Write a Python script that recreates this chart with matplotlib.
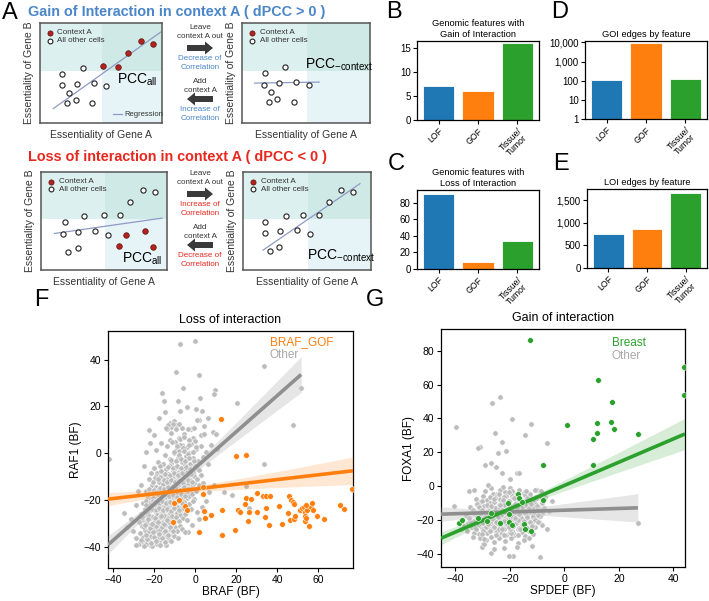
import numpy as np
import matplotlib
matplotlib.use('Agg')
import matplotlib.pyplot as plt
from matplotlib.ticker import FuncFormatter, NullLocator, FixedLocator
from matplotlib.patches import Rectangle, FancyArrow

plt.rcParams['font.family'] = ['Liberation Sans', 'DejaVu Sans']
plt.rcParams['axes.linewidth'] = 0.9

# ---------------- data: bar panels ----------------
bar_categories = ['LOF', 'GOF', 'Tissue/\nTumor']
goi_feature_counts = [7, 6, 16]
loi_feature_counts = [91, 9, 33.5]
goi_edge_counts = [107, 9500, 125]
loi_edge_counts = [757, 853, 1662]
bar_colors = ['#1f77b4', '#ff7f0e', '#2ca02c']

# ---------------- data: schematic panels (axes fraction units) ----------------
goi_all_ctx_x = [0.52, 0.643, 0.722, 0.831, 0.926]
goi_all_ctx_y = [0.57, 0.564, 0.698, 0.819, 0.795]
goi_all_oth_x = [0.183, 0.351, 0.18, 0.305, 0.441, 0.237, 0.545, 0.218, 0.294, 0.428]
goi_all_oth_y = [0.49, 0.554, 0.376, 0.393, 0.403, 0.302, 0.369, 0.198, 0.235, 0.205]
goi_all_line_x = [0.109, 0.989]
goi_all_line_y = [0.144, 0.909]
goi_ctx_oth_x = [0.178, 0.334, 0.172, 0.29, 0.423, 0.525, 0.23, 0.211, 0.277, 0.405]
goi_ctx_oth_y = [0.497, 0.56, 0.379, 0.396, 0.409, 0.376, 0.312, 0.208, 0.238, 0.215]
goi_ctx_line_x = [0.099, 0.603]
goi_ctx_line_y = [0.399, 0.409]

loi_all_ctx_x = [0.619, 0.677, 0.823, 0.889]
loi_all_ctx_y = [0.247, 0.359, 0.40, 0.237]
loi_all_oth_x = [0.188, 0.344, 0.503, 0.624, 0.706, 0.812, 0.902, 0.175, 0.296, 0.429, 0.529, 0.217, 0.291]
loi_all_oth_y = [0.485, 0.546, 0.563, 0.559, 0.695, 0.817, 0.797, 0.366, 0.383, 0.397, 0.359, 0.186, 0.22]
loi_all_line_x = [0.108, 0.96]
loi_all_line_y = [0.373, 0.529]
loi_ctx_oth_x = [0.175, 0.172, 0.209, 0.279, 0.29, 0.334, 0.423, 0.47, 0.522, 0.593, 0.668, 0.765, 0.862]
loi_ctx_oth_y = [0.488, 0.373, 0.197, 0.231, 0.393, 0.556, 0.407, 0.566, 0.366, 0.563, 0.695, 0.817, 0.80]
loi_ctx_line_x = [0.157, 0.914]
loi_ctx_line_y = [0.203, 0.881]

# ---------------- data: panel F (BRAF vs RAF1) ----------------
f_gof_x = [12.5, 19.7, 24.6, 76.7, 3.9, 3.9, -10.4, -7.8, -4.9, -3.9, -10.6, 4.4, 4.9, 7.6, 2.0,
           13.0, 13.2, 19.3, 20.8, 21.8, 24.2, 25.0, 27.2, 25.9, 26.3, 30.4, 30.1, 33.3, 34.5, 36.3,
           34.0, 34.8, 35.8, 40.7, 42.5, 45.4, 45.7, 46.7, 46.2, 47.5, 48.0, 48.2, 48.7, 51.2, 51.9,
           53.0, 53.4, 53.5, 53.7, 54.2, 54.8, 55.3, 56.4, 57.2, 57.4, 59.3, 62.9, 70.9, 72.8, 54.3]
f_gof_y = [14.5, -1.0, -0.6, -15.2, -14.6, -17.4, -21.3, -20.0, -22.7, -24.4, -29.4, -24.5, -27.7, -26.2, -33.6,
           -24.3, -35.0, -32.9, -24.1, -25.1, -21.6, -18.9, -19.4, -28.9, -25.0, -16.9, -25.0, -18.3, -18.4, -18.4,
           -27.1, -23.5, -30.8, -22.6, -30.4, -25.4, -18.4, -20.0, -28.4, -21.0, -27.9, -21.6, -27.0, -24.1, -23.4,
           -22.8, -25.1, -26.7, -29.1, -27.5, -24.4, -30.9, -23.0, -21.3, -24.3, -27.0, -28.1, -22.0, -23.7, -22.0]

f_other_x = [
    -7.2, 0.0, -9.1, 1.8, 33.7, -16.3, -6.0, -15.4, -8.6, 2.6, 9.9, 9.4, 20.5, 51.7,
    -4.2, 0.3, -7.3, 3.4, -14.5, -17.7, 1.8, 6.5, 47.5, -22.3, -12.5, -11.8, -10.5, -9.2, -13.9, -6.4,
    -2.2, -0.8, 4.2, -5.5, 8.8, -13.3, -14.1, -10.6, -9.3, -11.7, -8.1, -3.6, -0.5, 1.1, 3.0, 4.5,
    10.1, -0.9, 0.0, -12.2, -9.6, -8.0, -6.5, -2.8, 7.8,
    -16.8, -13.5, -11.2, -9.1, -7.4, -5.6, -3.9, -1.8, 0.6, 2.9, 5.1, -14.7, -12.1, -10.3, -8.2, -6.5,
    -4.4, -2.7, -0.9, 1.4, 3.6, -17.9, -15.6, -11.7, -7.9, -3.1, -19.3,
    -20.2, -18.4, -17.1, -15.8, -14.3, -13.1, -12.4, -11.0, -9.8, -9.3, -8.1, -7.0, -6.2, -5.1, -4.3,
    -3.2, -2.1, -1.0, 0.3, 1.7, 2.8, -16.5, -19.1, -10.5, -7.6, -13.8, -5.7, -0.4, -21.6, -12.0,
    -22.3, -21.0, -19.8, -18.9, -17.6, -16.9, -16.0, -15.1, -14.2, -13.6, -12.8, -12.1, -11.4, -10.7,
    -10.0, -9.4, -8.7, -8.0, -7.3, -6.6, -5.8, -5.0, -4.1, -3.3, -2.4, -1.5, -0.6, 0.8, 1.9, -20.4,
    -18.1, -15.6, -13.2, -9.1, -6.2, -3.7,
    -24.1, -23.2, -22.4, -21.7, -21.0, -20.3, -19.7, -19.0, -18.4, -17.8, -17.2, -16.6, -16.0, -15.4,
    -14.8, -14.2, -13.6, -13.0, -12.4, -11.8, -11.2, -10.6, -10.0, -9.4, -8.8, -8.2, -7.6, -7.0, -6.4,
    -5.8, -5.2, -4.6, -4.0, -3.4, -2.8, -2.2, -1.4, -0.6, 0.3, -22.8, -20.6, -18.0, -15.1, -12.0, -9.0, -6.7,
    -25.3, -24.6, -23.8, -23.1, -22.5, -21.8, -21.2, -20.5, -19.9, -19.3, -18.6, -18.0, -17.4, -16.8,
    -16.2, -15.6, -15.0, -14.4, -13.8, -13.2, -12.6, -12.0, -11.4, -10.8, -10.2, -9.6, -9.0, -8.4, -7.8,
    -7.2, -6.6, -6.0, -5.3, -4.6, -3.8, -2.9, -2.0, -22.0, -19.6, -17.1, -14.7, -11.7, -8.7, -24.0, -1.2,
    -26.3, -25.6, -24.9, -24.2, -23.5, -22.8, -22.1, -21.4, -20.7, -20.0, -19.3, -18.6, -17.9, -17.2,
    -16.5, -15.8, -15.1, -14.4, -13.7, -13.0, -12.3, -11.6, -10.9, -10.2, -9.5, -8.8, -8.1, -7.2, -6.1,
    -5.0, -18.1, -21.8, -14.0, -11.3, -4.0,
    -25.5, -24.1, -23.0, -21.9, -20.8, -19.7, -18.6, -17.5, -16.4, -15.3, -14.2, -13.1, -12.0, -10.9,
    -9.8, -8.7, -7.6, -6.3, -17.0, -22.5, -11.5, -3.4, -5.0,
    -27.6, -25.4, -22.4, -22.3, -22.2, -19.8, -17.5, -15.2, -12.6, -10.4, -8.2, -14.0,
    -41.8, -34.9, -26.3, -26.0, -29.0, -28.0, 0.7, 18.0, 14.3, 33.7, 26.5, 4.0, 5.5, 3.5, 7.0, 9.0,
    2.0, -1.5, -22.0, -25.0, -24.0, -20.0, 10.5, 6.5, 25.0]
f_other_y = [
    46.7, 47.8, 34.9, 33.6, 37.4, 25.7, 27.9, 22.3, 22.4, 23.5, 26.8, 25.1, 21.3, 27.9,
    19.7, 19.1, 18.0, 17.9, 17.6, 15.2, 14.3, 15.2, 12.2, 9.9, 12.8, 11.2, 13.6, 12.1, 10.5, 10.8,
    10.4, 10.6, 11.5, 8.3, 8.9, 11.9, 10.9, 12.3, 10.2, 8.8, 12.3, 10.2, 10.6, 14.3, 8.0, 8.1,
    8.4, 6.4, 5.1, 5.7, 5.0, 6.7, 3.7, 5.7, 3.7,
    4.2, 2.9, 4.8, 1.6, 3.5, 0.8, 2.6, 4.1, 1.9, 3.2, 0.4, -0.8, -2.6, 0.2, -1.9, -3.8,
    -1.2, -4.4, -2.1, -3.3, -1.5, -3.9, -4.6, -4.1, 0.9, 0.1, 1.2,
    -6.1, -8.3, -5.5, -9.4, -6.8, -8.9, -5.3, -7.6, -9.8, -5.9, -7.9, -6.4, -9.1, -5.2, -7.7,
    -9.5, -6.3, -8.4, -5.8, -7.2, -9.3, -7.4, -9.7, -6.7, -8.8, -9.9, -6.9, -9.9, -8.6, -9.2,
    -11.2, -13.6, -10.7, -14.4, -12.1, -10.3, -14.8, -11.9, -13.3, -10.8, -14.1, -12.0, -10.2, -13.8,
    -11.5, -14.6, -12.4, -10.6, -13.9, -11.3, -14.3, -12.2, -10.4, -13.1, -11.6, -14.0, -12.6, -10.9, -13.4, -12.4,
    -11.0, -13.0, -12.6, -11.9, -12.8, -14.9,
    -16.3, -18.7, -15.4, -19.5, -17.1, -15.9, -18.4, -16.6, -19.8, -15.2, -17.7, -19.1, -16.1, -18.3,
    -15.6, -19.6, -17.0, -15.3, -18.8, -16.4, -19.4, -17.5, -15.8, -18.9, -16.9, -15.1, -19.7, -17.8, -16.2,
    -18.6, -15.5, -17.3, -19.2, -16.6, -18.1, -15.3, -17.4, -19.5, -16.0, -17.4, -19.0, -17.0, -16.9, -17.2, -17.6, -18.9,
    -21.4, -23.8, -20.6, -22.9, -24.6, -21.2, -23.5, -20.3, -24.1, -22.0, -20.8, -23.3, -24.8, -21.5,
    -23.9, -20.2, -22.6, -24.4, -21.0, -23.1, -20.5, -24.7, -22.2, -20.9, -23.6, -21.6, -24.2, -20.4, -22.8,
    -24.5, -21.3, -23.4, -20.7, -22.5, -24.0, -21.8, -23.7, -22.2, -21.7, -22.5, -23.0, -21.4, -23.0, -22.0, -20.6,
    -26.1, -28.4, -25.5, -29.3, -27.0, -25.8, -28.8, -26.6, -29.7, -27.4, -25.3, -28.1, -26.2, -29.5,
    -27.1, -25.6, -28.6, -26.8, -29.9, -27.5, -25.4, -28.3, -26.3, -29.1, -27.0, -25.7, -28.9, -26.5, -27.8,
    -25.9, -27.6, -27.7, -27.9, -27.2, -28.5,
    -31.2, -33.6, -30.8, -32.4, -34.6, -31.0, -33.1, -30.4, -34.2, -31.8, -33.4, -30.6, -32.7, -34.8,
    -31.3, -33.0, -30.9, -32.2, -32.0, -34.0, -30.2, -33.5, -33.8,
    -38.7, -38.0, -36.6, -38.0, -39.0, -36.0, -37.8, -35.6, -37.1, -35.3, -36.4, -39.2,
    -2.4, -25.5, -13.5, -30.9, -22.0, -16.0, -25.2, -18.0, -16.7, -4.8, -23.3, -12.8, -20.5, -23.0, -16.5, -13.5,
    -28.0, -30.5, 4.5, -5.5, 0.5, 8.0, 2.0, -4.5, -14.0]

# points read from the dense diagonal core of the "Other" cloud
f_core_x = [
    -7.5, -3.0, -5.2, -9.0, -6.1, -2.8, 0.5, -10.5, -8.0, -5.5, -3.5, -1.0,
    -11.6, -9.4, -7.1, -5.0, -2.9, -0.6, -13.0, -10.8, -8.7, -6.9, -4.6, -2.5, -0.2,
    -14.5, -12.2, -10.1, -8.3, -6.2, -4.0, -1.9, -15.4, -13.5, -11.6, -9.8, -7.8, -5.9, -3.7, -1.6,
    -16.9, -15.0, -13.1, -11.3, -9.4, -7.5, -5.4, -3.3, -18.2, -16.4, -14.6, -12.7, -10.9, -9.0, -7.1, -5.0,
    -19.6, -17.8, -16.0, -14.2, -12.4, -10.5, -8.6, -6.6, -21.0, -19.2, -17.4, -15.6, -13.8, -12.0, -10.1, -8.1,
    -22.3, -20.5, -18.7, -16.9, -15.1, -13.3, -11.4, -9.5, -23.6, -21.7, -19.9, -18.1, -16.3, -14.5, -12.6,
    -24.4, -22.5, -20.6, -18.8, -16.9, -15.0, -25.2, -23.3, -21.4, -19.5, -17.6, -24.0, -21.0, -18.6]
f_core_y = [
    6.2, 5.6, 7.1, 3.1, 2.4, 3.6, 2.8, 0.4, -0.6, 0.9, -0.3, 0.6,
    -2.8, -3.3, -2.5, -3.1, -2.2, -3.5, -5.7, -6.4, -5.5, -6.2, -5.9, -6.6, -5.4,
    -8.7, -9.3, -8.4, -9.1, -8.6, -9.4, -8.8, -11.6, -12.4, -11.3, -12.2, -11.8, -12.5, -11.4, -12.1,
    -14.7, -15.3, -14.4, -15.2, -14.8, -15.5, -14.6, -15.1, -17.6, -18.3, -17.4, -18.2, -17.8, -18.5, -17.5, -18.1,
    -20.7, -21.4, -20.5, -21.2, -20.8, -21.5, -20.6, -21.1, -23.6, -24.3, -23.4, -24.2, -23.8, -24.5, -23.5, -24.1,
    -26.7, -27.3, -26.4, -27.2, -26.8, -27.5, -26.6, -27.1, -29.6, -30.3, -29.4, -30.2, -29.8, -30.5, -29.5,
    -32.8, -33.4, -32.5, -33.2, -32.7, -33.5, -35.7, -36.4, -35.5, -36.2, -35.8, -38.9, -39.4, -38.6]

# points read from the lower tail of the "Other" cloud
f_tail_x = [
    -28.6, -26.5, -24.8, -23.5, -21.4, -20.2, -18.9, -17.2, -16.0, -14.6, -13.1, -11.8,
    -26.8, -25.1, -23.9, -22.0, -20.4, -19.0, -17.8, -16.1, -14.8, -13.4, -12.2, -10.6,
    -27.5, -25.9, -24.4, -22.9, -21.2, -19.8, -18.3, -16.6, -15.2, -13.8,
    -30.5, -31.5, -29.0, -33.0]
f_tail_y = [
    -39.0, -37.2, -39.6, -36.8, -38.3, -35.6, -37.4, -39.3, -36.3, -38.1, -35.9, -37.6,
    -33.9, -31.5, -34.9, -31.9, -33.7, -30.9, -34.5, -31.7, -33.2, -34.9, -31.3, -33.0,
    -29.4, -27.2, -30.6, -28.0, -30.1, -27.7, -29.2, -26.9, -30.4, -28.3,
    -33.0, -28.0, -36.0, -31.5]

# ---------------- data: panel G (SPDEF vs FOXA1) ----------------
g_breast_x = [-12.5, 44.0, 44.0, 12.5, 17.5, 1.0, 12.1, 17.1, 18.4, 12.1, 10.4, 26.9, -7.9, 10.4,
              -8.0, -16.9, -20.8, -16.8, -15.5, -23.6, -20.3, -19.1, -15.0, -14.6, -12.4, -28.3,
              -38.8, -37.6, -26.8, -20.4, -31.7]
g_breast_y = [86.5, 70.5, 53.6, 62.6, 49.5, 36.1, 37.1, 37.7, 34.0, 31.4, 27.9, 30.8, 12.7, 12.3,
              -8.0, -4.4, -10.0, -6.8, -9.2, -21.8, -21.4, -23.1, -22.4, -25.5, -26.7, -20.6,
              -21.9, -19.9, -15.7, -16.7, -19.0]

g_other_x = [
    -29.3, -27.0, -25.2, -23.6, -21.8, -20.1, -18.4, -16.5, -14.7, -26.1, -22.7, -19.2, -28.0, -35.0,
    -32.6, -31.1, -29.7, -28.4, -27.2, -26.0, -24.9, -23.7, -22.5, -21.4, -20.2, -19.1, -17.9, -16.8,
    -15.6, -14.4, -13.1, -11.8, -10.4, -25.5, -18.7, -30.2, -12.5,
    -34.8, -33.4, -32.1, -30.9, -29.6, -28.4, -27.3, -26.2, -25.1, -24.0, -22.9, -21.8, -20.7, -19.6,
    -18.5, -17.4, -16.3, -15.2, -14.1, -13.0, -11.9, -10.6, -9.3, -8.2, -31.5, -27.8, -23.5, -19.0, -15.8, -12.4,
    -36.0, -34.6, -33.3, -32.0, -30.8, -29.6, -28.5, -27.4, -26.3, -25.2, -24.1, -23.0, -21.9, -20.8,
    -19.7, -18.6, -17.5, -16.4, -15.3, -14.2, -13.1, -12.0, -10.8, -9.5, -8.1, -31.4, -26.9, -22.5,
    -18.0, -13.6, -24.6, -20.3,
    -35.4, -34.1, -32.7, -31.4, -30.1, -28.9, -27.7, -26.5, -25.4, -24.3, -23.2, -22.1, -21.0, -19.9,
    -18.8, -17.7, -16.6, -15.5, -14.4, -13.3, -12.1, -10.8, -9.4, -8.2, -29.5, -25.9, -20.5, -16.1, -11.5,
    -32.8, -31.2, -29.7, -28.3, -26.9, -25.5, -24.1, -22.7, -21.3, -19.9, -18.5, -17.1, -15.7, -14.3,
    -12.9, -11.5, -23.4, -19.0,
    -29.8, -28.6, -26.0, -24.0, -21.8, -19.5, -17.0, -15.0, -13.0, -30.3,
    -39.8, -26.4, -23.7, -19.2, -12.2, -25.3, -14.3, -22.8, -6.2, -30.9, -31.6, -21.5, -29.0, -27.0,
    -24.5, -23.0, -20.0, -17.5, -16.8, -4.4, -40.5, -9.0, -19.0, -20.5, -27.0, -29.5, 27.0, -25.0,
    -26.0, -33.0, -10.0, -7.0, -5.5, -6.5, -38.0, -37.5, -22.0, -17.5, -12.0]
g_other_y = [
    -3.1, -1.2, -4.4, -2.0, -3.6, -0.8, -4.7, -2.5, -4.0, -4.9, -0.3, -2.9, 1.0, -3.0,
    -7.3, -9.6, -5.8, -8.1, -6.4, -9.3, -5.4, -7.7, -9.8, -6.0, -8.5, -5.7, -9.1, -6.8,
    -8.7, -5.3, -7.4, -9.4, -6.3, -7.0, -7.2, -8.9, -5.8,
    -12.0, -14.3, -10.6, -13.1, -11.4, -14.6, -10.2, -12.7, -14.9, -11.1, -13.4, -10.5, -12.9, -14.5,
    -11.6, -13.8, -10.8, -12.3, -14.7, -11.0, -13.2, -10.4, -12.6, -14.2, -12.5, -12.2, -12.6, -12.0, -14.0, -12.0,
    -17.0, -19.2, -15.6, -18.1, -16.3, -19.6, -15.2, -17.5, -19.9, -16.0, -18.4, -15.5, -19.1, -16.7,
    -18.8, -15.3, -17.9, -19.7, -16.2, -18.5, -15.8, -19.3, -17.0, -18.2, -16.0, -19.8, -18.0, -17.3,
    -16.9, -17.2, -15.9, -19.9,
    -21.5, -23.8, -20.7, -22.9, -24.6, -21.2, -23.5, -20.4, -24.2, -22.0, -20.8, -23.7, -21.6, -24.5,
    -20.6, -22.8, -24.9, -21.3, -23.4, -20.3, -22.5, -24.3, -21.0, -23.0, -22.6, -22.4, -22.3, -23.0, -20.7,
    -26.3, -28.5, -25.4, -27.6, -29.7, -26.0, -28.2, -25.7, -29.1, -26.8, -28.9, -25.5, -27.3, -29.5,
    -26.2, -28.0, -27.1, -27.5,
    -34.0, -31.5, -33.0, -30.8, -32.2, -30.6, -33.4, -31.5, -30.3, -35.7,
    35.1, 49.3, 52.8, 39.6, 36.9, 31.7, 30.2, 25.9, 25.5, 23.1, 22.5, 21.0, 12.5, 13.5,
    19.5, 8.0, 4.5, 8.0, 7.5, -8.9, -11.5, -42.0, -41.5, -41.0, -39.5, -34.0, -21.7, 11.5,
    -37.0, -2.0, -2.0, -6.5, -14.5, -25.0, -25.5, -21.0, -36.5, -36.0, -35.5]

# points read from the dense centre of the "Other" cloud
g_core_x = [
    -28.5, -25.8, -23.1, -20.4, -17.7, -15.0, -30.2, -27.6, -24.9, -22.2, -19.5, -16.8, -14.1, -11.4,
    -31.0, -28.3, -25.6, -22.9, -20.2, -17.5, -14.8, -12.1, -9.6, -30.5, -27.8, -25.1, -22.4, -19.7,
    -17.0, -14.3, -11.6, -29.8, -27.1, -24.4, -21.7, -19.0, -16.3, -13.6, -10.9, -28.9, -26.2, -23.5,
    -20.8, -18.1, -15.4, -12.7, -27.4, -24.7, -22.0, -19.3, -16.6, -13.9, -25.0, -22.3, -19.6, -16.9,
    -26.0, -22.0, -18.5, -24.0, -20.5, -33.5, -33.0, -8.8, -9.5, -10.5,
    -26.7, -21.3, -18.9, -23.8, -26.9, -21.0, -17.8, -23.3, -15.9, -24.1, -20.0, -28.1, -13.0, -16.2,
    -19.9, -25.3, -14.7, -22.6, -30.0, -12.0,
    -29.1, -27.3, -26.1, -25.4, -24.2, -23.4, -22.6, -21.9, -21.2, -20.6, -19.8, -19.1, -18.4, -17.6,
    -16.9, -16.0, -15.2, -14.5, -28.2, -27.0, -25.9, -24.8, -23.7, -22.9, -22.1, -21.4, -20.5, -19.6,
    -18.8, -18.0, -17.2, -16.3, -15.5, -14.8, -13.8, -26.7, -24.0, -21.5, -19.3, -23.2]
g_core_y = [
    -11.2, -9.4, -10.4, -9.0, -10.3, -8.9, -14.0, -14.5, -12.9, -14.3, -12.6, -13.0, -11.6, -12.8,
    -16.7, -17.1, -15.4, -16.5, -14.9, -16.2, -14.6, -15.0, -13.6, -19.1, -19.6, -17.9, -19.0, -17.4,
    -17.8, -16.3, -17.6, -21.6, -22.1, -20.4, -21.5, -19.9, -20.3, -18.8, -20.0, -24.0, -24.6, -22.9,
    -23.8, -22.3, -22.8, -21.1, -26.4, -26.6, -25.0, -26.3, -24.6, -24.9, -28.8, -29.1, -27.5, -28.8,
    -7.5, -6.4, -7.2, -4.8, -3.6, -20.3, -23.6, -17.8, -21.2, -6.9,
    -12.2, -11.7, -14.1, -15.8, -20.7, -19.1, -21.0, -21.1, -18.2, -25.1, -22.5, -15.8, -12.9, -10.9,
    -25.5, -19.8, -21.1, -8.2, -26.3, -23.5,
    -18.3, -15.7, -19.6, -12.9, -16.8, -20.9, -14.6, -18.0, -22.4, -15.4, -19.3, -11.9, -17.1, -21.7,
    -14.2, -18.6, -23.3, -16.0, -22.3, -11.4, -24.0, -21.8, -13.1, -25.2, -11.0, -16.3, -24.2, -13.7,
    -23.6, -10.8, -19.9, -25.4, -12.7, -20.4, -18.1, -17.4, -19.0, -20.0, -17.8, -17.1]

# points read from the flanks of the "Other" cloud
g_flank_x = [
    -11.5, -10.2, -9.0, -8.1, -7.3, -12.8, -11.0, -9.6, -8.5, -13.6, -12.4, -10.8, -7.6, -14.2, -9.9,
    -35.8, -34.2, -33.0, -32.3, -31.0, -34.8, -36.7, -30.2, -33.6, -32.0, -29.4, -35.0,
    -23.0, -21.0, -19.0, -24.5, -18.0, -22.2, -26.3, -20.3, -16.8, -25.0, -23.7, -17.4]
g_flank_y = [
    -8.2, -11.6, -5.7, -9.9, -13.1, -4.6, -15.4, -17.2, -3.1, -7.0, -10.6, -2.4, -7.4, -3.0, -13.8,
    -26.2, -23.1, -27.9, -25.0, -30.6, -20.7, -23.6, -28.1, -29.8, -21.9, -31.2, -18.6,
    -14.0, -16.0, -14.8, -17.9, -19.0, -20.3, -15.0, -12.7, -16.3, -21.3, -11.2, -13.0]

# ---------------- figure ----------------
W, H = 709, 601
fig = plt.figure(figsize=(W / 100, H / 100), dpi=100)


def px_axes(x0, y0, x1, y1):
    return fig.add_axes([x0 / W, 1 - y1 / H, (x1 - x0) / W, (y1 - y0) / H])


overlay = fig.add_axes([0, 0, 1, 1])
overlay.set_xlim(0, W)
overlay.set_ylim(H, 0)
overlay.axis('off')
overlay.set_zorder(10)
overlay.patch.set_alpha(0)

# panel letters
for letter, (lx, ly) in {'A': (2, 13), 'B': (386, 12), 'C': (388, 164), 'D': (551, 12),
                         'E': (553, 164), 'F': (34, 300), 'G': (366, 300)}.items():
    overlay.text(lx, ly, letter, fontsize=17, ha='left', va='center')

overlay.text(28, 12, 'Gain of Interaction in context A ( dPCC > 0 )', color='#4a86c8',
             fontsize=10.4, fontweight='bold', ha='left', va='center')
overlay.text(28, 157, 'Loss of interaction in context A ( dPCC < 0 )', color='#e8281e',
             fontsize=10.4, fontweight='bold', ha='left', va='center')

# ---------------- schematic ----------------
Q_UL, Q_UR, Q_LR = '#dcf0ef', '#cfe9e6', '#e6f4f7'


def schematic(ax, ctx_x, ctx_y, oth_x, oth_y, lx, ly, pcc_label, pcc_pos, show_reg):
    ax.set_xlim(0, 1)
    ax.set_ylim(0, 1)
    ax.set_xticks([])
    ax.set_yticks([])
    for s in ax.spines.values():
        s.set_color('#555555')
        s.set_linewidth(1.1)
    ax.add_patch(Rectangle((0, 0.52), 0.51, 0.48, color=Q_UL, lw=0, zorder=0))
    ax.add_patch(Rectangle((0.51, 0.52), 0.49, 0.48, color=Q_UR, lw=0, zorder=0))
    ax.add_patch(Rectangle((0.51, 0), 0.49, 0.52, color=Q_LR, lw=0, zorder=0))
    ax.plot(lx, ly, color='#8e9ac4', lw=0.9, zorder=2)
    ax.scatter(oth_x, oth_y, s=14, facecolor='white', edgecolor='#222222', lw=0.8, zorder=3)
    if len(ctx_x):
        ax.scatter(ctx_x, ctx_y, s=16, facecolor='#b3221c', edgecolor='#5a1010', lw=0.5, zorder=3)
    ax.scatter([0.08], [0.9], s=14, facecolor='#b3221c', edgecolor='#5a1010', lw=0.5, zorder=3)
    ax.scatter([0.08], [0.825], s=12, facecolor='white', edgecolor='#222222', lw=0.8, zorder=3)
    ax.text(0.14, 0.9, 'Context A', fontsize=5.8, va='center', color='#333333')
    ax.text(0.14, 0.825, 'All other cells', fontsize=5.8, va='center', color='#333333')
    ax.text(pcc_pos[0], pcc_pos[1], pcc_label, fontsize=10, ha='center', va='center')
    if show_reg:
        ax.plot([0.6, 0.67], [0.09, 0.09], color='#8e9ac4', lw=0.9)
        ax.text(0.69, 0.09, 'Regression', fontsize=5.5, va='center', color='#333333')
    ax.set_xlabel('Essentiality of Gene A', fontsize=7.5, labelpad=5, color='#333333')
    ax.set_ylabel('Essentiality of Gene B', fontsize=7.5, labelpad=4, color='#333333')


ax = px_axes(40, 23, 162, 123)
schematic(ax, goi_all_ctx_x, goi_all_ctx_y, goi_all_oth_x, goi_all_oth_y,
          goi_all_line_x, goi_all_line_y, 'PCC$_{\\mathregular{all}}$', (0.8, 0.43), True)
ax = px_axes(242, 23, 370, 123)
schematic(ax, [], [], goi_ctx_oth_x, goi_ctx_oth_y,
          goi_ctx_line_x, goi_ctx_line_y, 'PCC$_{\\mathregular{-context}}$', (0.76, 0.58), False)
ax = px_axes(41, 172, 167, 270)
schematic(ax, loi_all_ctx_x, loi_all_ctx_y, loi_all_oth_x, loi_all_oth_y,
          loi_all_line_x, loi_all_line_y, 'PCC$_{\\mathregular{all}}$', (0.8, 0.11), False)
ax = px_axes(243, 172, 371, 270)
schematic(ax, [], [], loi_ctx_oth_x, loi_ctx_oth_y,
          loi_ctx_line_x, loi_ctx_line_y, 'PCC$_{\\mathregular{-context}}$', (0.77, 0.14), False)


def mid_group(y0, col_a, col_b, txt_a, txt_b):
    overlay.text(200, y0, 'Leave\ncontext A out', fontsize=5.8, ha='center', va='center',
                 color='#333333', linespacing=1.3)
    overlay.add_patch(FancyArrow(187, y0 + 16, 18, 0, width=6, head_width=13, head_length=8,
                                 length_includes_head=False, color='#3a3a3a', lw=0))
    overlay.text(200, y0 + 31, txt_a, fontsize=5.8, ha='center', va='center', color=col_a,
                 linespacing=1.3)
    overlay.text(200, y0 + 54, 'Add\ncontext A', fontsize=5.8, ha='center', va='center',
                 color='#333333', linespacing=1.3)
    overlay.add_patch(FancyArrow(213, y0 + 67, -18, 0, width=6, head_width=13, head_length=8,
                                 length_includes_head=False, color='#3a3a3a', lw=0))
    overlay.text(200, y0 + 82, txt_b, fontsize=5.8, ha='center', va='center', color=col_b,
                 linespacing=1.3)


mid_group(32, '#4a86c8', '#4a86c8', 'Decrease of\nCorrelation', 'Increase of\nCorrelation')
mid_group(178, '#e8281e', '#e8281e', 'Increase of\nCorrelation', 'Decrease of\nCorrelation')

# ---------------- bar panels ----------------
comma = FuncFormatter(lambda v, p: f'{int(round(v)):,}')


def bar_panel(ax, values, title, ylim, ticks, log=False):
    xs = np.arange(len(bar_categories))
    if log:
        ax.set_yscale('log')
    ax.bar(xs, values, width=0.8, color=bar_colors, edgecolor='white', linewidth=0.6,
           bottom=1 if log else 0)
    ax.set_xlim(-0.55, 2.55)
    ax.set_ylim(*ylim)
    ax.yaxis.set_major_locator(FixedLocator(ticks))
    ax.yaxis.set_minor_locator(NullLocator())
    ax.yaxis.set_major_formatter(comma)
    ax.set_xticks(xs)
    ax.set_xticklabels(bar_categories, rotation=45, ha='right', rotation_mode='anchor',
                       fontsize=6.3, linespacing=1.0, multialignment='center')
    ax.tick_params(axis='y', labelsize=7, length=3, width=0.8, pad=1.5)
    ax.tick_params(axis='x', length=3, width=0.8, pad=1.5)
    ax.set_title(title, fontsize=6.7, pad=3, linespacing=1.3)


bar_panel(px_axes(417, 41, 539, 120), goi_feature_counts,
          'Genomic features with\nGain of Interaction', (0, 16.5), [0, 5, 10, 15])
bar_panel(px_axes(417, 190, 539, 269), loi_feature_counts,
          'Genomic features with\nLoss of Interaction', (0, 95.6), [0, 20, 40, 60, 80])
bar_panel(px_axes(585, 41, 707, 119), goi_edge_counts,
          'GOI edges by feature', (1, 11750), [1, 10, 100, 1000, 10000], log=True)
bar_panel(px_axes(587, 189, 707, 268), loi_edge_counts,
          'LOI edges by feature', (0, 1743), [0, 500, 1000, 1500])


# ---------------- scatter panels ----------------
def reg_fit(x, y, xs):
    x = np.asarray(x, float)
    y = np.asarray(y, float)
    b, a = np.polyfit(x, y, 1)
    n = len(x)
    res = y - (a + b * x)
    s = np.sqrt(np.sum(res ** 2) / (n - 2))
    se = s * np.sqrt(1.0 / n + (xs - x.mean()) ** 2 / np.sum((x - x.mean()) ** 2))
    return a + b * xs, 1.96 * se


def scatter_panel(ax, ox, oy, cx, cy, color, label, xlim, ylim, xticks, yticks,
                  title, xlabel, ylabel, leg_x, leg_y):
    ax.set_xlim(*xlim)
    ax.set_ylim(*ylim)
    ax.scatter(ox, oy, s=15, color='#bcbcbc', edgecolor='white', linewidth=0.4, zorder=2)
    all_x = np.concatenate([ox, cx])
    all_y = np.concatenate([oy, cy])
    xs_o = np.linspace(xlim[0], max(ox), 100)
    yo, eo = reg_fit(ox, oy, xs_o)
    xs_a = np.linspace(xlim[0], xlim[1], 100)
    ya, ea = reg_fit(all_x, all_y, xs_a)
    ax.fill_between(xs_o, yo - eo, yo + eo, color='#c8c8c8', alpha=0.45, lw=0, zorder=3)
    ax.fill_between(xs_a, ya - ea, ya + ea, color=color, alpha=0.18, lw=0, zorder=3)
    ax.plot(xs_o, yo, color='#8f8f8f', lw=2.6, zorder=4, solid_capstyle='butt')
    ax.scatter(cx, cy, s=17, color=color, edgecolor='white', linewidth=0.4, zorder=5)
    ax.plot(xs_a, ya, color=color, lw=2.6, zorder=4, solid_capstyle='butt')
    ax.set_xticks(xticks)
    ax.set_yticks(yticks)
    ax.tick_params(labelsize=7.5, length=3, width=0.8, pad=2)
    ax.set_xlabel(xlabel, fontsize=8.5, labelpad=1)
    ax.set_ylabel(ylabel, fontsize=8.5, labelpad=1)
    ax.set_title(title, fontsize=9, pad=6)
    ax.text(leg_x, leg_y, label, color=color, fontsize=8.5, transform=ax.transAxes,
            ha='left', va='center')
    ax.text(leg_x, leg_y - 0.055, 'Other', color='#a8a8a8', fontsize=8.5,
            transform=ax.transAxes, ha='left', va='center')


scatter_panel(px_axes(108, 331, 353, 568), np.concatenate([f_other_x, f_core_x, f_tail_x]),
              np.concatenate([f_other_y, f_core_y, f_tail_y]), f_gof_x, f_gof_y,
              '#ff7f0e', 'BRAF_GOF', (-42.5, 77), (-49, 52.2), [-40, -20, 0, 20, 40, 60],
              [-40, -20, 0, 20, 40], 'Loss of interaction', 'BRAF (BF)', 'RAF1 (BF)', 0.66, 0.953)
scatter_panel(px_axes(441, 329, 685, 567), np.concatenate([g_other_x, g_core_x, g_flank_x]),
              np.concatenate([g_other_y, g_core_y, g_flank_y]), g_breast_x, g_breast_y,
              '#2ca02c', 'Breast', (-45.3, 44.3), (-47.7, 92.8), [-40, -20, 0, 20, 40],
              [-40, -20, 0, 20, 40, 60, 80], 'Gain of interaction', 'SPDEF (BF)', 'FOXA1 (BF)',
              0.70, 0.94)

fig.savefig('out.png', dpi=100)
